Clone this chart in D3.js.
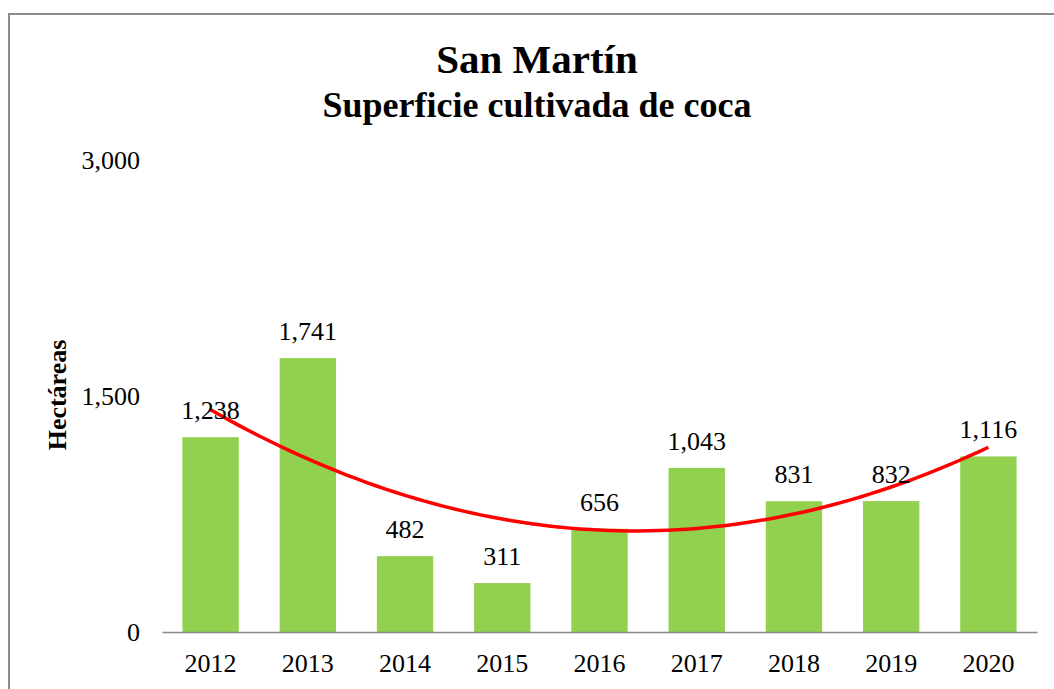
<!DOCTYPE html>
<html>
<head>
<meta charset="utf-8">
<script src="https://cdn.jsdelivr.net/npm/d3@7"></script>
<style>
  html, body { margin: 0; padding: 0; background: #fff; }
  svg { display: block; }
  text { font-family: "Liberation Serif", "Times New Roman", serif; fill: #000; }
</style>
</head>
<body>
<div id="chart"></div>
<script>
// chart data
var years = ["2012", "2013", "2014", "2015", "2016", "2017", "2018", "2019", "2020"]
var hectareas = [1238, 1741, 482, 311, 656, 1043, 831, 832, 1116]
var yTicks = [0, 1500, 3000]

var W = 1054, H = 689
var svg = d3.select("#chart").append("svg")
    .attr("width", W)
    .attr("height", H)

// outer frame
svg.append("rect")
    .attr("x", 9).attr("y", 14)
    .attr("width", W + 20).attr("height", H + 20)
    .attr("fill", "none")
    .attr("stroke", "#8c8c8c")
    .attr("stroke-width", 2)

var x = d3.scaleBand()
    .domain(years)
    .range([162, 1037])
    .paddingInner(0.42)
    .paddingOuter(0.21)

var y = d3.scaleLinear()
    .domain([0, 3000])
    .range([632, 160])

// titles
svg.append("text")
    .attr("x", 537).attr("y", 73)
    .attr("text-anchor", "middle")
    .attr("font-weight", "bold")
    .attr("font-size", 41)
    .text("San Martín")

svg.append("text")
    .attr("x", 537).attr("y", 117)
    .attr("text-anchor", "middle")
    .attr("font-weight", "bold")
    .attr("font-size", 36)
    .text("Superficie cultivada de coca")

svg.append("text")
    .attr("transform", "translate(66,395) rotate(-90)")
    .attr("text-anchor", "middle")
    .attr("font-weight", "bold")
    .attr("font-size", 26)
    .text("Hectáreas")

// y axis (labels only)
var fmt = d3.format(",")
var yAxis = svg.append("g")
    .attr("transform", "translate(140,0)")
    .call(d3.axisLeft(y).tickValues(yTicks).tickFormat(fmt).tickSize(0).tickPadding(0))
yAxis.select(".domain").remove()
yAxis.selectAll("text")
    .attr("font-size", 26)
    .attr("font-family", "Liberation Serif, serif")
    .attr("fill", "#000")

// bars
svg.append("g")
    .selectAll("rect")
    .data(hectareas)
    .join("rect")
    .attr("x", (d, i) => x(years[i]))
    .attr("y", d => y(d))
    .attr("width", x.bandwidth())
    .attr("height", d => y(0) - y(d))
    .attr("fill", "#92d050")

// x axis
var xAxis = svg.append("g")
    .attr("transform", "translate(0," + y(0) + ")")
    .call(d3.axisBottom(x).tickSize(0).tickPadding(22))
xAxis.select(".domain")
    .attr("stroke", "#8a8a8a")
    .attr("stroke-width", 1.5)
xAxis.selectAll("text")
    .attr("font-size", 26)
    .attr("font-family", "Liberation Serif, serif")
    .attr("fill", "#000")

// polynomial (order 2) trendline, least squares like Excel
function quadFit(ys) {
    var n = ys.length, s = [0, 0, 0, 0, 0], t = [0, 0, 0]
    ys.forEach((v, i) => {
        for (var k = 0; k < 5; k++) s[k] += Math.pow(i, k)
        for (var k = 0; k < 3; k++) t[k] += v * Math.pow(i, k)
    })
    var A = [[s[0], s[1], s[2], t[0]], [s[1], s[2], s[3], t[1]], [s[2], s[3], s[4], t[2]]]
    for (var c = 0; c < 3; c++) {
        for (var r = c + 1; r < 3; r++) {
            var f = A[r][c] / A[c][c]
            for (var k = c; k < 4; k++) A[r][k] -= f * A[c][k]
        }
    }
    var coef = [0, 0, 0]
    for (var r = 2; r >= 0; r--) {
        var v = A[r][3]
        for (var k = r + 1; k < 3; k++) v -= A[r][k] * coef[k]
        coef[r] = v / A[r][r]
    }
    return coef
}
var cf = quadFit(hectareas)
var step = x.step()
var x0 = x(years[0]) + x.bandwidth() / 2
var trend = d3.range(0, 8.001, 0.1).map(t => [x0 + t * step, y(cf[0] + cf[1] * t + cf[2] * t * t)])

svg.append("path")
    .datum(trend)
    .attr("fill", "none")
    .attr("stroke", "#ff0000")
    .attr("stroke-width", 3.5)
    .attr("d", d3.line().curve(d3.curveLinear))

// data labels
svg.append("g")
    .selectAll("text")
    .data(hectareas)
    .join("text")
    .attr("x", (d, i) => x(years[i]) + x.bandwidth() / 2)
    .attr("y", d => y(d) - 18)
    .attr("text-anchor", "middle")
    .attr("font-size", 26)
    .text(d => fmt(d))
</script>
</body>
</html>
